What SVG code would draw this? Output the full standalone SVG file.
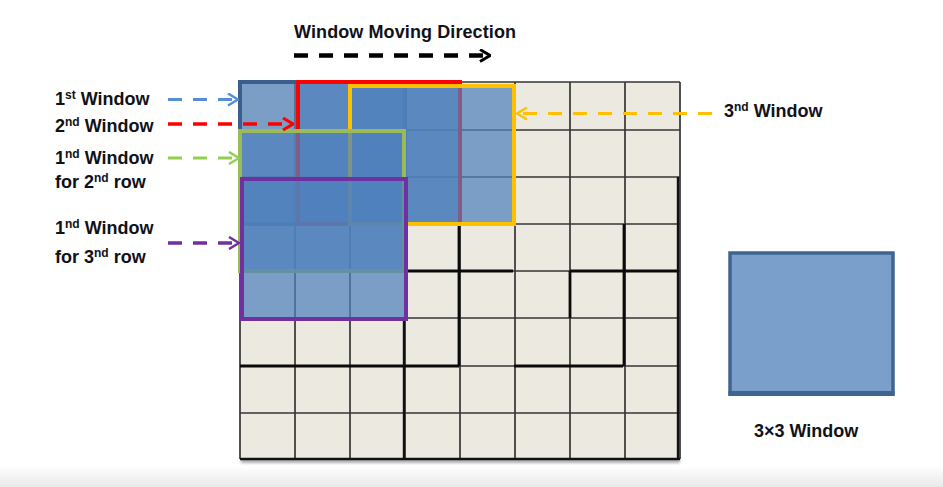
<svg xmlns="http://www.w3.org/2000/svg" width="943" height="487" viewBox="0 0 943 487">
  <defs>
    <style>
      .lbl { font-family: "Liberation Sans", Arial, sans-serif; font-weight: bold; font-size: 18px; fill: #111118; }
      .sup { font-size: 12px; }
      .grid { stroke: #363636; stroke-width: 1.7; fill: none; }
      .thick { stroke: #0a0a0a; stroke-width: 2.8; fill: none; }
      .win { fill: #4F81BD; fill-opacity: 0.72; stroke-width: 4; }
      .dash { fill: none; stroke-dasharray: 14 11; }
    </style>
    <linearGradient id="band" x1="0" y1="0" x2="0" y2="1">
      <stop offset="0" stop-color="#ffffff"/>
      <stop offset="1" stop-color="#e9e9e9"/>
    </linearGradient>
    <filter id="blur" x="-5%" y="-50%" width="110%" height="200%">
      <feGaussianBlur stdDeviation="1.5"/>
    </filter>
    <marker id="hBlack" viewBox="0 0 12 14" refX="11" refY="7" markerWidth="12" markerHeight="14" markerUnits="userSpaceOnUse" orient="auto">
      <path d="M1,1 L11,7 L1,13" fill="none" stroke="#000" stroke-width="3"/>
    </marker>
    <marker id="hBlue" viewBox="0 0 12 14" refX="11" refY="7" markerWidth="12" markerHeight="14" markerUnits="userSpaceOnUse" orient="auto">
      <path d="M1,1 L11,7 L1,13" fill="none" stroke="#558ED5" stroke-width="2.5"/>
    </marker>
    <marker id="hRed" viewBox="0 0 12 14" refX="11" refY="7" markerWidth="12" markerHeight="14" markerUnits="userSpaceOnUse" orient="auto">
      <path d="M1,1 L11,7 L1,13" fill="none" stroke="#FF0000" stroke-width="3"/>
    </marker>
    <marker id="hGreen" viewBox="0 0 12 14" refX="11" refY="7" markerWidth="12" markerHeight="14" markerUnits="userSpaceOnUse" orient="auto">
      <path d="M1,1 L11,7 L1,13" fill="none" stroke="#92D050" stroke-width="2.5"/>
    </marker>
    <marker id="hPurple" viewBox="0 0 12 14" refX="11" refY="7" markerWidth="12" markerHeight="14" markerUnits="userSpaceOnUse" orient="auto">
      <path d="M1,1 L11,7 L1,13" fill="none" stroke="#7030A0" stroke-width="2.5"/>
    </marker>
    <marker id="hYellow" viewBox="0 0 12 14" refX="11" refY="7" markerWidth="12" markerHeight="14" markerUnits="userSpaceOnUse" orient="auto">
      <path d="M1,1 L11,7 L1,13" fill="none" stroke="#FFC000" stroke-width="2.5"/>
    </marker>
  </defs>

  <rect x="0" y="0" width="943" height="487" fill="#ffffff"/>
  <rect x="0" y="466" width="943" height="21" fill="url(#band)"/>

  <g id="grid">
    <rect x="241" y="458" width="439" height="5" fill="#777" opacity="0.6" filter="url(#blur)"/>
    <rect x="240" y="82" width="440" height="377" fill="#ECEAE0"/>
    <path class="grid" d="M240,82V459 M295,82V459 M350,82V459 M405,82V459 M460,82V459 M515,82V459 M570,82V459 M625,82V459 M680,82V459
      M240,82H680 M240,130H680 M240,177H680 M240,224H680 M240,271H680 M240,318H680 M240,366H680 M240,413H680 M240,459H680"/>
    <path class="thick" d="M459,224V366 M405,271H513 M570,271H678 M240,366H459 M514,366H623 M570,271V318 M624,224V366"/>
    <path d="M404,318V459 M678,177V459 M240,459H680" stroke="#111" stroke-width="2.4" fill="none"/>
  </g>

  <g id="window-1st">
    <rect class="win" x="240" y="82" width="165" height="142" stroke="#3B5E8C"/>
  </g>
  <g id="window-2nd">
    <rect class="win" x="298" y="82" width="162" height="142" stroke="#FF0000"/>
  </g>
  <g id="window-3rd">
    <rect class="win" x="350" y="86" width="164" height="138" stroke="#FFC000"/>
  </g>
  <g id="window-row2">
    <rect class="win" x="240" y="131" width="164" height="140" stroke="#9BBB59"/>
  </g>
  <g id="window-row3">
    <rect class="win" x="242" y="179" width="164" height="140" stroke="#7030A0"/>
  </g>

  <g id="window-3x3">
    <rect x="730" y="253" width="163" height="141" fill="#7A9FCB" stroke="#3F6491" stroke-width="3.5"/>
    <rect x="728.5" y="391" width="166" height="5" fill="#3F6491"/>
  </g>

  <g id="connectors">
    <path class="dash" d="M294,55.5H490" stroke="#000" stroke-width="4.5" stroke-dasharray="14 10" marker-end="url(#hBlack)"/>
    <path class="dash" d="M168,99.5H238" stroke="#558ED5" stroke-width="3" marker-end="url(#hBlue)"/>
    <path class="dash" d="M168,124H293" stroke="#FF0000" stroke-width="3.5" marker-end="url(#hRed)"/>
    <path class="dash" d="M168,158H239" stroke="#92D050" stroke-width="3" marker-end="url(#hGreen)"/>
    <path class="dash" d="M168,243H239" stroke="#7030A0" stroke-width="3.5" marker-end="url(#hPurple)"/>
    <path class="dash" d="M712,113.5H517" stroke="#FFC000" stroke-width="3" stroke-dasharray="13 11" marker-end="url(#hYellow)"/>
  </g>

  <g id="labels">
    <text class="lbl" x="294" y="38" font-size="16.5" textLength="222">Window Moving Direction</text>
    <text class="lbl" x="55" y="105">1<tspan class="sup" dy="-6">st</tspan><tspan dy="6"> Window</tspan></text>
    <text class="lbl" x="55" y="132">2<tspan class="sup" dy="-6">nd</tspan><tspan dy="6"> Window</tspan></text>
    <text class="lbl" x="55" y="164">1<tspan class="sup" dy="-6">nd</tspan><tspan dy="6"> Window</tspan></text>
    <text class="lbl" x="55" y="188">for 2<tspan class="sup" dy="-6">nd</tspan><tspan dy="6"> row</tspan></text>
    <text class="lbl" x="55" y="234">1<tspan class="sup" dy="-6">nd</tspan><tspan dy="6"> Window</tspan></text>
    <text class="lbl" x="55" y="263">for 3<tspan class="sup" dy="-6">nd</tspan><tspan dy="6"> row</tspan></text>
    <text class="lbl" x="724" y="117">3<tspan class="sup" dy="-6">nd</tspan><tspan dy="6"> Window</tspan></text>
    <text class="lbl" x="754" y="437">3×3 Window</text>
  </g>
</svg>
